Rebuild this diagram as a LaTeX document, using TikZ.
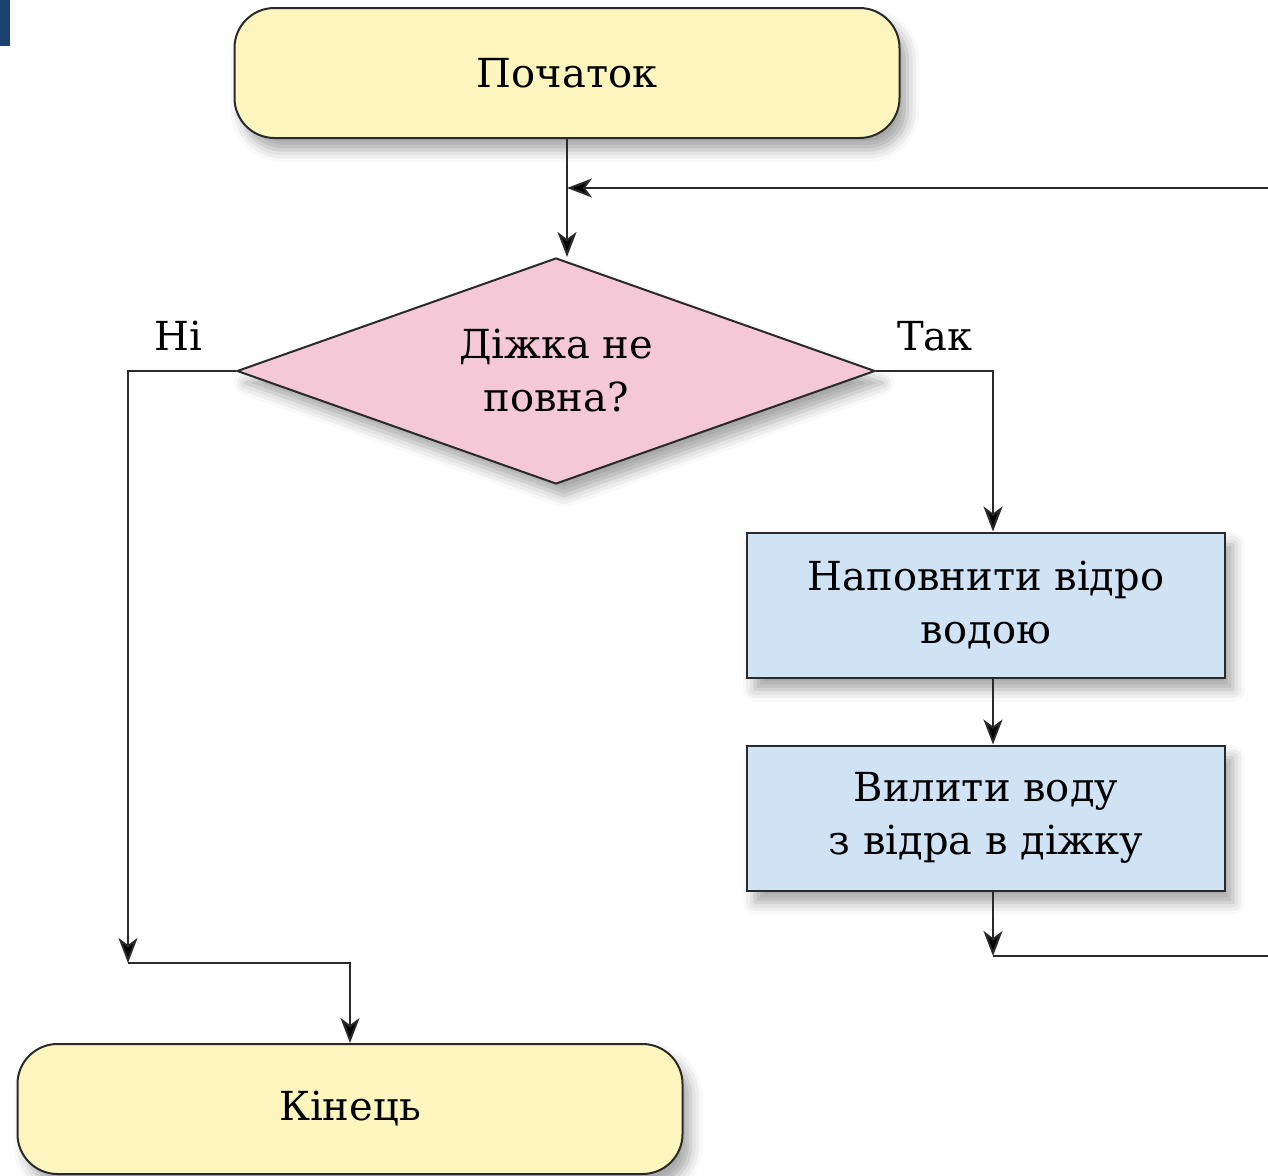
\documentclass[tikz,border=0pt]{standalone}
\usepackage{fontspec}
\setmainfont{DejaVu Serif}
\usetikzlibrary{arrows.meta,shapes.geometric,shadows.blur}
\definecolor{startfill}{HTML}{FCF6BE}
\definecolor{askfill}{HTML}{F4C8D6}
\definecolor{actfill}{HTML}{CFE3F4}
\definecolor{barblue}{HTML}{1A4270}
\definecolor{wire}{HTML}{2A2A2A}
\tikzset{
  flowtext/.style={font=\fontsize{40}{53}\selectfont, align=center, text=black},
  softshadow/.style={blur shadow={shadow xshift=8pt, shadow yshift=-12pt,
      shadow blur radius=12pt, shadow opacity=35}},
  terminal/.style={flowtext, rectangle, rounded corners=40pt, draw=wire,
      line width=2pt, fill=startfill, minimum width=665pt, minimum height=130pt,
      softshadow},
  decision/.style={flowtext, diamond, aspect=2.8, draw=wire, line width=2pt,
      fill=askfill, inner sep=0pt, minimum width=638pt, minimum height=226pt,
      softshadow},
  action/.style={flowtext, rectangle, draw=wire, line width=2pt, fill=actfill,
      minimum width=478pt, minimum height=145pt, softshadow},
  arr/.style={draw=wire, line width=2pt,
      -{Stealth[length=25pt,width=19pt,inset=7pt,fill=black]}},
  wireline/.style={draw=wire, line width=2pt},
  branch/.style={flowtext}
}
\begin{document}
\begin{tikzpicture}[x=1pt,y=-1pt]%
  \useasboundingbox (0,0) rectangle (1268,1175);
  \fill[barblue] (0,0) rectangle (10,46);

  % blocks
  \node[terminal] (start) at (567,73) {Початок};
  \node[decision] (ask) at (556,371) {Діжка не\\повна?};
  \node[action] (fill) at (986,605) {Наповнити відро\\водою};
  \node[action] (pour) at (986,818) {Вилити воду\\з відра в діжку};
  \node[terminal] (finish) at (350,1109) {Кінець};

  % helper points
  \pgfmathsetmacro{\yescol}{993}
  \coordinate (yesturn) at (\yescol,371);
  \coordinate (noturn) at (128,371);
  \coordinate (nojoin) at (128,963);
  \coordinate (loopin) at (1268,188);
  \coordinate (loopout) at (\yescol,956);
  \coordinate (loopend) at (1268,956);

  % labels
  \node[branch] (nolabel) at (178,336) {Ні};
  \node[branch] (yeslabel) at (935,336) {Так};

  % connectors
  \draw[arr] (start.south) -- (start.south |- ask.north);
  \draw[arr] (loopin) -- (loopin -| start.south);
  \draw[arr] (ask.west) -- (noturn) -- (nojoin);
  \draw[arr] (nojoin) -| (finish.north);
  \draw[arr] (ask.east) -- (yesturn) -- (yesturn |- fill.north);
  \draw[arr] (yesturn |- fill.south) -- (yesturn |- pour.north);
  \draw[arr] (yesturn |- pour.south) -- (loopout);
  \draw[wireline] (loopout) -- (loopend);
\end{tikzpicture}
\end{document}
